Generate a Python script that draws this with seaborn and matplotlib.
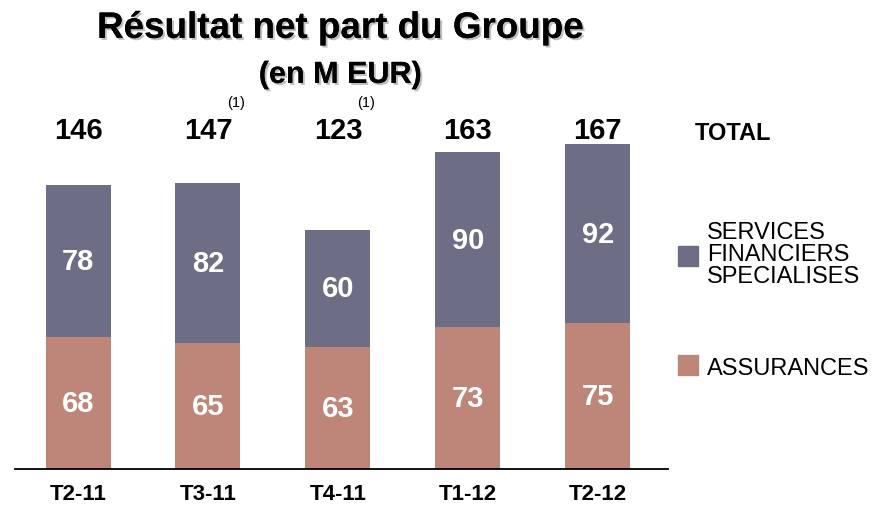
import matplotlib
matplotlib.use("Agg")
import matplotlib.pyplot as plt
import matplotlib.patheffects as pe
from matplotlib.patches import Rectangle
import pandas as pd
import seaborn as sns

periods = ["T2-11", "T3-11", "T4-11", "T1-12", "T2-12"]
assurances = [68, 65, 63, 73, 75]
services = [78, 82, 60, 90, 92]
totals = [146, 147, 123, 163, 167]
footnoted = ["T3-11", "T4-11"]

COLOR_SFS = "#6D6D85"
COLOR_ASS = "#BD8679"

sns.set_theme(style="white")
plt.rcParams["font.family"] = ["Liberation Sans", "DejaVu Sans"]
plt.rcParams["text.color"] = "black"

df = pd.DataFrame({
    "period": periods,
    "assurances": assurances,
    "services": services,
})
df["stack"] = df["assurances"] + df["services"]

fig = plt.figure(figsize=(8.72, 5.06), dpi=100)
ax = fig.add_axes([0.0172, 0.0711, 0.7489, 0.7309])

# stacked: full height first, then the lower segment on top of it
sns.barplot(data=df, x="period", y="stack", color=COLOR_SFS, width=0.5,
            saturation=1, linewidth=0, ax=ax)
sns.barplot(data=df, x="period", y="assurances", color=COLOR_ASS, width=0.5,
            saturation=1, linewidth=0, ax=ax)

ax.set_xlim(-0.485, 4.54)
ax.set_ylim(0, 190.2)
ax.set_xlabel("")
ax.set_ylabel("")
ax.set_yticks([])
for side in ["top", "left", "right"]:
    ax.spines[side].set_visible(False)
ax.spines["bottom"].set_color("black")
ax.spines["bottom"].set_linewidth(1.3)
ax.tick_params(axis="x", length=0, pad=10)
for lbl in ax.get_xticklabels():
    lbl.set_fontsize(16)
    lbl.set_fontweight("bold")
    lbl.set_color("black")

for i, row in df.iterrows():
    ax.text(i, row["assurances"] / 2, str(row["assurances"]), ha="center",
            va="center", color="white", fontsize=21, fontweight="bold")
    ax.text(i, row["assurances"] + row["services"] / 2, str(row["services"]),
            ha="center", va="center", color="white", fontsize=21,
            fontweight="bold")
    ax.text(i, 174.5, str(totals[i]), ha="center", va="center",
            color="black", fontsize=21, fontweight="bold")
    if row["period"] in footnoted:
        ax.text(i + 0.215, 189, "(1)", ha="center", va="center",
                color="black", fontsize=10.5)

shadow = [pe.withSimplePatchShadow(offset=(1.5, -1.5), shadow_rgbFace="gray",
                                   alpha=0.5), pe.Normal()]
fig.text(0.39, 0.942, "Résultat net part du Groupe", ha="center",
         va="center", fontsize=26.5, fontweight="bold", path_effects=shadow)
fig.text(0.39, 0.850, "(en M EUR)", ha="center", va="center", fontsize=22,
         fontweight="bold", path_effects=shadow)

fig.text(0.797, 0.737, "TOTAL", ha="left", va="center", fontsize=17,
         fontweight="bold")

fig.patches.append(Rectangle((0.778, 0.472), 0.022, 0.040, color=COLOR_SFS,
                             transform=fig.transFigure, figure=fig))
fig.text(0.811, 0.496, "SERVICES\nFINANCIERS\nSPECIALISES", ha="left",
         va="center", fontsize=17, linespacing=0.98)

fig.patches.append(Rectangle((0.778, 0.257), 0.022, 0.040, color=COLOR_ASS,
                             transform=fig.transFigure, figure=fig))
fig.text(0.811, 0.270, "ASSURANCES", ha="left", va="center", fontsize=17)

fig.savefig("out.png", dpi=100)
